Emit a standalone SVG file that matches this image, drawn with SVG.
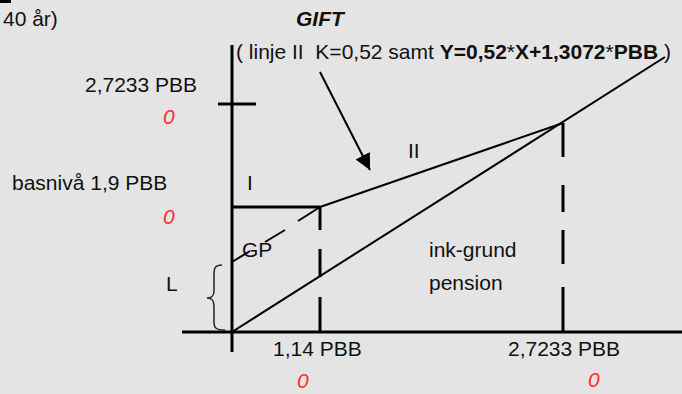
<svg xmlns="http://www.w3.org/2000/svg" width="682" height="394" viewBox="0 0 682 394">
<style>
text{font-family:"Liberation Sans",Arial,sans-serif;font-size:21px;fill:#111}
.red{fill:#ff2d2d;font-style:italic}
.b{font-weight:bold}
.ax{stroke:#000;stroke-width:3;fill:none}
.ln{stroke:#000;stroke-width:2;fill:none}
</style>
<defs>
<marker id="ah" viewBox="0 0 10 10" refX="10" refY="5" markerWidth="16" markerHeight="16" markerUnits="userSpaceOnUse" orient="auto">
<path d="M0,0 L10,5 L0,10 Z" fill="#000"/>
</marker>
</defs>
<rect width="682" height="394" fill="#e4e4e4"/>
<rect x="0" y="0" width="11" height="3" fill="#000"/>
<g id="labels">
<text x="3" y="26">40 år)</text>
<text x="296" y="26" class="b" font-style="italic">GIFT</text>
<text x="236" y="59" style="white-space:pre">( linje II  K=0,52 samt <tspan class="b">Y=0,52</tspan>*<tspan class="b">X+1,3072</tspan>*<tspan class="b">PBB</tspan> )</text>
<text x="85" y="92">2,7233 PBB</text>
<text x="163" y="124" class="red">0</text>
<text x="12" y="190">basnivå 1,9 PBB</text>
<text x="163" y="224" class="red">0</text>
<text x="247" y="190">I</text>
<text x="408" y="158">II</text>
<text x="242" y="257">GP</text>
<text x="166" y="291">L</text>
<text x="429" y="257">ink-grund</text>
<text x="429" y="290">pension</text>
<text x="273" y="356">1,14 PBB</text>
<text x="297" y="388" class="red">0</text>
<text x="508" y="356">2,7233 PBB</text>
<text x="588" y="387" class="red">0</text>
</g>
<g id="axes">
<line class="ax" x1="232" y1="45" x2="232" y2="352"/>
<line class="ax" x1="182" y1="332" x2="682" y2="332"/>
<line class="ax" x1="218" y1="104" x2="256" y2="104"/>
</g>
<g id="connectors">
<line class="ax" x1="232" y1="207" x2="320" y2="207"/>
<path class="ax" d="M320,207 V230 M320,249 V277 M320,297 V332"/>
<path class="ax" d="M563,123 V157 M563,185 V212 M563,230 V264 M563,287 V332"/>
<line class="ln" x1="232" y1="332" x2="665" y2="57"/>
<line class="ln" x1="320" y1="207" x2="563" y2="123"/>
<path class="ln" d="M232,262 L250,251 M265,242 L285,230 M298,221 L320,207"/>
<line class="ln" x1="320" y1="72" x2="370" y2="170" marker-end="url(#ah)"/>
<path d="M222,265 C215,265 214,268 214,275 L214,290 C214,296 212,298 207,298 C212,298 214,300 214,306 L214,322 C214,328 216,330 225,330" fill="none" stroke="#222" stroke-width="1.5"/>
</g>
</svg>
